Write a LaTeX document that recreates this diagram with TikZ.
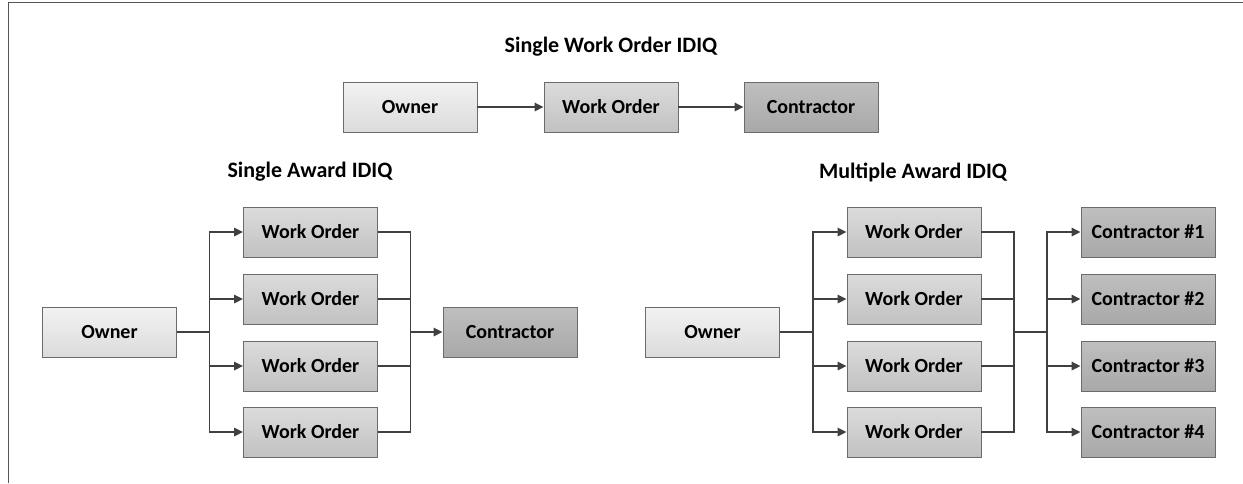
\documentclass[tikz,border=0pt]{standalone}
\usepackage{fontspec}
\setmainfont{Carlito}
\usetikzlibrary{arrows.meta}
\definecolor{edgegray}{HTML}{6B6B6B}
\definecolor{linegray}{HTML}{404040}
\definecolor{framegray}{HTML}{555555}
\tikzset{
  box/.style={draw=edgegray, line width=0.9pt, inner sep=0pt,
    minimum width=134pt, minimum height=50pt,
    font=\fontsize{20}{24}\selectfont\bfseries},
  ownerbox/.style={box, top color=white!95!black, bottom color=white!86!black},
  orderbox/.style={box, top color=white!86!black, bottom color=white!76!black},
  contrbox/.style={box, top color=white!75!black, bottom color=white!66!black},
  conn/.style={draw=linegray, line width=1.6pt},
  arr/.style={conn, -{Triangle[length=9pt,width=8.5pt]}},
  heading/.style={font=\fontsize{22}{26}\selectfont\bfseries, inner sep=0pt}
}
\begin{document}
\begin{tikzpicture}[x=1pt,y=-1pt]
\useasboundingbox (0,0) rectangle (1243,483);
% outer frame (top and left edges)
\draw[framegray, line width=1.6pt] (8.5,483) -- (8.5,2.5) -- (1243,2.5);

% ---- single work order ----
\node[heading] (t1) at (611,47) {Single Work Order IDIQ};
\node[ownerbox] (so) at (410,107) {Owner};
\node[orderbox] (sw) at (611,107) {Work Order};
\node[contrbox] (sc) at (811,107) {Contractor};
\draw[arr] (so.east) -- (sw.west);
\draw[arr] (sw.east) -- (sc.west);

% ---- single award ----
\node[heading] (t2) at (310,172) {Single Award IDIQ};
\node[ownerbox] (ao) at (109.5,332) {Owner};
\foreach \i/\y in {1/232,2/299,3/366,4/432}
  \node[orderbox] (aw\i) at (310.5,\y) {Work Order};
\node[contrbox] (ac) at (510,332) {Contractor};
\coordinate (asplit) at (209.5,332);
\coordinate (amerge) at (410.5,332);
\draw[conn] (ao.east) -- (asplit);
\foreach \i in {1,...,4} {
  \draw[arr] (asplit) |- (aw\i.west);
  \draw[conn] (aw\i.east) -| (amerge);
}
\draw[arr] (amerge) -- (ac.west);

% ---- multiple award ----
\node[heading] (t3) at (913,172) {Multiple Award IDIQ};
\node[ownerbox] (mo) at (712.5,332) {Owner};
\foreach \i/\y in {1/232,2/299,3/366,4/432} {
  \node[orderbox] (mw\i) at (914,\y) {Work Order};
  \node[contrbox] (mc\i) at (1148,\y) {Contractor \#\i};
}
\coordinate (msplit) at (813,332);
\coordinate (mmerge) at (1014,332);
\coordinate (mfan) at (1047,332);
\draw[conn] (mo.east) -- (msplit);
\draw[conn] (mmerge) -- (mfan);
\foreach \i in {1,...,4} {
  \draw[arr] (msplit) |- (mw\i.west);
  \draw[conn] (mw\i.east) -| (mmerge);
  \draw[arr] (mfan) |- (mc\i.west);
}
\end{tikzpicture}
\end{document}
